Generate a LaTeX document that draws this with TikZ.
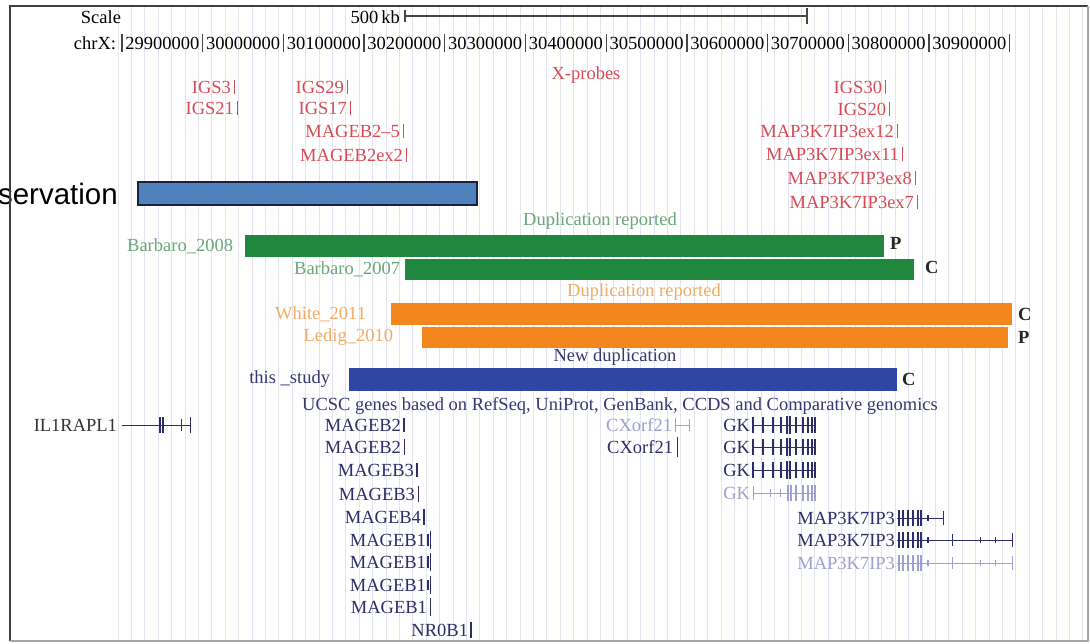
\documentclass[tikz,border=0pt]{standalone}
\usepackage{fontspec}
\setmainfont{Liberation Serif}
\newfontfamily\sansfam{Liberation Sans}
\definecolor{gridc}{RGB}{228,228,240}
\definecolor{probec}{RGB}{215,75,85}
\definecolor{consfill}{RGB}{79,129,189}
\definecolor{consline}{RGB}{25,35,65}
\definecolor{greenbar}{RGB}{32,135,62}
\definecolor{greentxt}{RGB}{105,168,118}
\definecolor{orangebar}{RGB}{244,134,30}
\definecolor{orangetxt}{RGB}{240,172,100}
\definecolor{navybar}{RGB}{48,70,165}
\definecolor{navytxt}{RGB}{55,55,115}
\definecolor{genedark}{RGB}{45,45,105}
\definecolor{genelight}{RGB}{160,160,208}
\definecolor{rulec}{RGB}{70,70,70}
\newcommand{\probelab}[4]{%
  \node[probe,anchor=east] (#1) at ({#2-3},#3) {#4};
  \draw[pbar] (#2,{#3-7}) -- (#2,{#3+7});}
\newcommand{\gtick}[4]{\draw[#4] (#1,{#2-#3}) -- (#1,{#2+#3});}
\tikzset{
  txt/.style={font=\fontsize{18.5}{20}\selectfont, inner sep=0pt, outer sep=0pt},
  probe/.style={txt, text=probec},
  pbar/.style={draw=probec, line width=1pt},
  bar/.style={anchor=north west, inner sep=0pt, outer sep=0pt, draw=none},
  cp/.style={inner sep=0pt, font=\fontsize{18.5}{20}\selectfont\bfseries, text=black!85},
  gdark/.style={txt, text=genedark},
  glight/.style={txt, text=genelight},
  gl/.style={draw=genedark, line width=0.8pt},
  gll/.style={draw=genelight, line width=0.8pt},
  ex/.style={draw=genedark, line width=1.6pt},
  exl/.style={draw=genelight, line width=1.6pt},
  gridline/.style={draw=gridc, line width=1pt},
}
\begin{document}
\begin{tikzpicture}[x=1pt,y=-1pt]
\useasboundingbox (0,0) rectangle (1090,643);
\fill[white] (0,0) rectangle (1090,643);
% grid
\foreach \i in {0,...,72} {\draw[gridline] ({118+13.4*\i},7) -- ({118+13.4*\i},640);}
% scale
\node[txt, anchor=east] (scale) at (121,17) {Scale};
\node[txt, anchor=east] (kb) at (400,17) {500\,kb};
\coordinate (sbL) at (405,16);
\coordinate (sbR) at (807,16);
\draw[rulec, line width=1.3pt] (sbL) -- (sbR);
\draw[rulec, line width=1.2pt] (405,10) -- (405,22);
\draw[rulec, line width=1.2pt] (807,8) -- (807,24);
% chrX ruler
\node[txt, anchor=east] (chrx) at (116,43) {chrX:};
\foreach \k in {0,...,11} {\draw[rulec, line width=1.3pt] ({122+80.7*\k},34) -- ({122+80.7*\k},52);}
\foreach \lab [count=\k from 0] in {29900000,30000000,30100000,30200000,30300000,30400000,30500000,30600000,30700000,30800000,30900000}
  {\node[txt] (r\k) at ({122+80.7*\k+40.35},43) {\lab};}
% probes
\node[probe] (xprobes) at (586,75) {X-probes};
\probelab{pa}{234}{87}{IGS3}
\probelab{pb}{237}{108}{IGS21}
\probelab{pc}{347}{87}{IGS29}
\probelab{pd}{350}{108}{IGS17}
\probelab{pe}{403}{131}{MAGEB2--5}
\probelab{pf}{406}{155}{MAGEB2ex2}
\probelab{pg}{885}{87}{IGS30}
\probelab{ph}{889}{109}{IGS20}
\probelab{pi}{897}{131}{MAP3K7IP3ex12}
\probelab{pj}{902}{154}{MAP3K7IP3ex11}
\probelab{pk}{915}{178}{MAP3K7IP3ex8}
\probelab{pl}{917}{202}{MAP3K7IP3ex7}
% conservation
\node[bar, fill=consfill, draw=consline, line width=1.2pt, minimum width=339pt, minimum height=23pt] (cons) at (138,182) {};
\node[anchor=east, inner sep=0pt, font=\sansfam\fontsize{29.5}{32}\selectfont] (conslab) at ([xshift=-20pt]cons.west) {Conservation};
% green
\node[txt, text=greentxt] (dup1) at (600,221) {Duplication reported};
\node[bar, fill=greenbar, minimum width=639pt, minimum height=22pt] (b2008) at (245,235) {};
\node[txt, text=greentxt, anchor=east] (l2008) at ([xshift=-12pt]b2008.west) {Barbaro\_2008};
\node[cp, anchor=west] (p2008) at ([xshift=6pt,yshift=3pt]b2008.east) {P};
\node[bar, fill=greenbar, minimum width=509pt, minimum height=21pt] (b2007) at (405,259) {};
\node[txt, text=greentxt, anchor=east] (l2007) at ([xshift=-5pt]b2007.west) {Barbaro\_2007};
\node[cp, anchor=west] (c2007) at ([xshift=11pt,yshift=2pt]b2007.east) {C};
% orange
\node[txt, text=orangetxt] (dup2) at (644,292) {Duplication reported};
\node[bar, fill=orangebar, minimum width=621pt, minimum height=22pt] (w2011) at (391,303) {};
\node[txt, text=orangetxt, anchor=east] (lw2011) at ([xshift=-25pt]w2011.west) {White\_2011};
\node[cp, anchor=west] (cw2011) at ([xshift=6pt]w2011.east) {C};
\node[bar, fill=orangebar, minimum width=586pt, minimum height=21pt] (l2010) at (422,327) {};
\node[txt, text=orangetxt, anchor=east] (ll2010) at ([xshift=-29pt]l2010.west) {Ledig\_2010};
\node[cp, anchor=west] (pl2010) at ([xshift=10pt]l2010.east) {P};
% new duplication
\node[txt, text=navytxt] (newdup) at (615,357) {New duplication};
\node[bar, fill=navybar, minimum width=548pt, minimum height=23pt] (study) at (349,368) {};
\node[txt, text=navytxt, anchor=east] (lstudy) at ([xshift=-19pt]study.west) {this \_study};
\node[cp, anchor=west] (cstudy) at ([xshift=5pt]study.east) {C};
% genes
\node[txt, text=navytxt] (ucsc) at (620,406) {UCSC genes based on RefSeq, UniProt, GenBank, CCDS and Comparative genomics};
% IL1RAPL1
\node[txt, text=black!80, anchor=east] (il1) at (117,425) {IL1RAPL1};
\draw[gl] (122,425) -- (190,425);
\gtick{160}{425}{8}{ex}
\gtick{163}{425}{8}{ex}
\gtick{181}{425}{6}{gl}
\gtick{190}{425}{8}{gl}
% MAGEB
\node[gdark, anchor=east] (m1) at (401,425) {MAGEB2}; \gtick{404}{425}{7}{ex}
\node[gdark, anchor=east] (m2) at (401,447) {MAGEB2}; \gtick{404}{447}{8}{gl}
\node[gdark, anchor=east] (m3) at (414,470) {MAGEB3}; \gtick{417}{470}{7}{ex}
\node[gdark, anchor=east] (m4) at (415,494) {MAGEB3}; \gtick{418}{494}{8}{gl}
\node[gdark, anchor=east] (m5) at (421,517) {MAGEB4}; \gtick{424}{517}{8}{ex}
\node[gdark, anchor=east] (m6) at (426,540) {MAGEB1}; \gtick{428}{540}{6}{ex} \gtick{430}{540}{9}{gl}
\node[gdark, anchor=east] (m7) at (426,562) {MAGEB1}; \gtick{428}{562}{6}{ex} \gtick{430}{562}{9}{gl}
\node[gdark, anchor=east] (m8) at (426,585) {MAGEB1}; \gtick{428}{585}{5}{ex} \gtick{430}{585}{9}{gl}
\node[gdark, anchor=east] (m9) at (427,607) {MAGEB1}; \gtick{430}{607}{9}{gl}
\node[gdark, anchor=east] (nr) at (468,630) {NR0B1}; \gtick{471}{630}{8}{ex}
% CXorf21
\node[glight, anchor=east] (cx1) at (672,425) {CXorf21};
\draw[gll] (675,425) -- (689,425); \gtick{675}{425}{7}{gll} \gtick{689}{425}{6}{gll}
\node[gdark, anchor=east] (cx2) at (673,447) {CXorf21}; \gtick{677}{447}{10}{gl}
% GK
\foreach \yy in {425,447,470}{%
  \draw[gl] (753,\yy) -- (815,\yy);
  \foreach \xx in {753,763,773,781,796,803,808,812,815} {\gtick{\xx}{\yy}{8}{ex}}
  \foreach \xx in {787,790} {\gtick{\xx}{\yy}{9}{ex}}
}
\node[gdark, anchor=east] (gk1) at (750,425) {GK};
\node[gdark, anchor=east] (gk2) at (750,447) {GK};
\node[gdark, anchor=east] (gk3) at (750,470) {GK};
\node[glight, anchor=east] (gk4) at (750,493) {GK};
\draw[gll] (753,493) -- (815,493);
\gtick{753}{493}{7}{gll} \gtick{770}{493}{4}{gll} \gtick{780}{493}{4}{gll}
\foreach \xx in {788,791,796,803,808,812,815} {\gtick{\xx}{493}{8}{exl}}
% MAP3K7IP3
\node[gdark, anchor=east] (mp1) at (895,518) {MAP3K7IP3};
\node[gdark, anchor=east] (mp2) at (895,540) {MAP3K7IP3};
\node[glight, anchor=east] (mp3) at (895,563) {MAP3K7IP3};
\draw[gl] (897,518) -- (943,518);
\foreach \xx in {899,903,908,913,918,921} {\gtick{\xx}{518}{8}{ex}}
\gtick{928}{518}{3}{ex} \gtick{943}{518}{7}{gl}
\draw[gl] (897,540) -- (1012,540);
\foreach \xx in {899,903,908,913,918,921} {\gtick{\xx}{540}{8}{ex}}
\gtick{928}{540}{3}{ex} \gtick{952}{540}{6}{gl} \gtick{980}{540}{3}{gl} \gtick{995}{540}{3}{gl} \gtick{1012}{540}{7}{gl}
\draw[gll] (897,563) -- (1012,563);
\foreach \xx in {899,903,908,913,918,921} {\gtick{\xx}{563}{8}{exl}}
\gtick{928}{563}{3}{exl} \gtick{952}{563}{6}{gll} \gtick{980}{563}{3}{gll} \gtick{995}{563}{3}{gll} \gtick{1012}{563}{7}{gll}
% frame
\draw[black!75, line width=1.6pt] (10,641) -- (10,6) -- (1088,6);
\draw[black!35, line width=1.2pt] (1088,6) -- (1088,641) -- (10,641);
\end{tikzpicture}
\end{document}
